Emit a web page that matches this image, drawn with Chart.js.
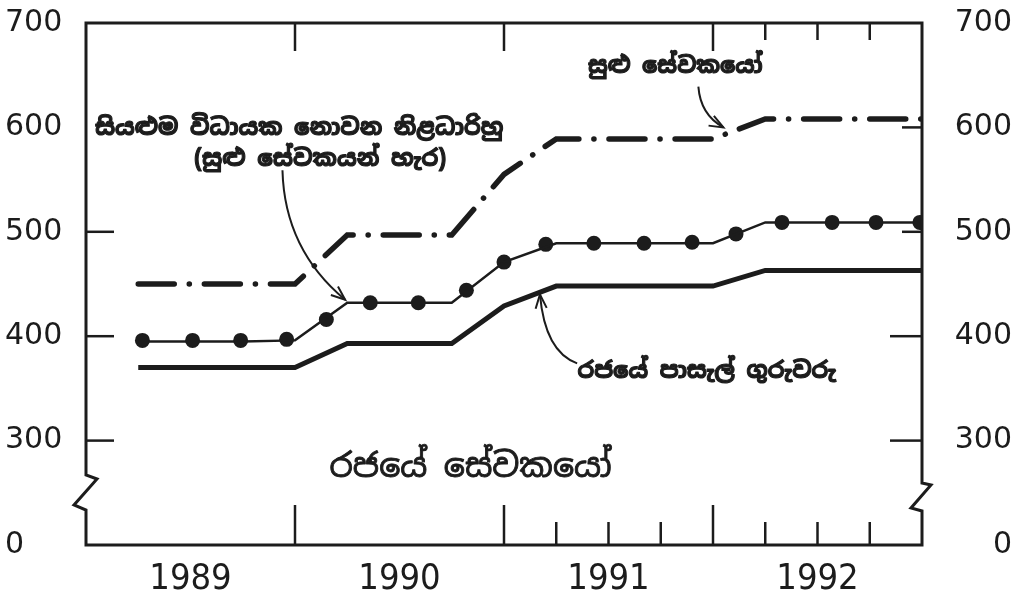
<!DOCTYPE html>
<html><head><meta charset="utf-8">
<script src="https://cdn.jsdelivr.net/npm/chart.js@4.4.0/dist/chart.umd.min.js"></script>
<style>html,body{margin:0;padding:0;background:#fff;}</style>
</head><body>
<canvas id="c" width="1025" height="594"></canvas>
<script>
// ---- data ----
const quarters = [1989.25,1989.5,1989.75,1990.0,1990.25,1990.5,1990.75,1991.0,1991.25,1991.5,1991.75,1992.0,1992.25,1992.5,1992.75,1993.0];
const teachers = [370,370,370,370,393,393,393,429,448,448,448,448,463,463,463,463];
const minorEmployees = [450,450,450,450,497,497,497,555,589,589,589,589,608,608,608,608];
const nonExecLine = [395,395,395,396,432,432,432,471,489,489,489,489,509,509,509,509];
const markerX = [1989.27,1989.51,1989.74,1989.96,1990.15,1990.36,1990.59,1990.82,1991.0,1991.2,1991.43,1991.67,1991.9,1992.11,1992.33,1992.57,1992.78,1992.99];
const markerY = [396,396,396,397,416,432,432,444,471,488,489,489,490,498,509,509,509,509];
const yearLabels = ['1989','1990','1991','1992'];
const yTickValues = [200,300,400,500,600,700];
const yTickLabels = ['0','300','400','500','600','700'];
const topMajor = [1990,1991,1992], topMinor = [1992.25,1992.5,1992.75];
const bottomMajor = [1990,1991,1992], bottomMinor = [1991.25,1991.5,1991.75,1992.25,1992.5,1992.75];
const notes = [
  {text:'සියළුම විධායක නොවන නිළධාරිහු', x:1990.02, y:599, w:408, size:22, bold:true},
  {text:'(සුළු සේවකයන් හැර)', x:1990.12, y:569, w:252, size:22, bold:true},
  {text:'සුළු සේවකයෝ', x:1991.82, y:658, w:175, size:22, bold:true},
  {text:'රජයේ පාසැල් ගුරුවරු', x:1991.97, y:366, w:258, size:22, bold:true},
  {text:'රජයේ සේවකයෝ', x:1990.84, y:274, w:282, size:34, bold:false}
];
const arrows = [
  {from:[1989.94,559], ctrl:[1989.95,483], to:[1990.24,435]},
  {from:[1991.93,639], ctrl:[1991.94,612], to:[1992.05,600]},
  {from:[1991.35,374], ctrl:[1991.196,385], to:[1991.172,440]}
];
const ink = '#1c1c1c';
const sinFont = "'Noto Sans Sinhala','Noto Serif Sinhala','Iskoola Pota','LKLUG','Noto Sans',sans-serif";

const pts = (xs, ys) => xs.map((x,i)=>({x, y: ys[i]}));

const decor = {
  id:'decor',
  beforeDraw(chart){
    const c = chart.ctx; c.save(); c.fillStyle='#fff'; c.fillRect(0,0,chart.width,chart.height); c.restore();
  },
  afterDatasetsDraw(chart){
    const {ctx:c, chartArea:a, scales:{x,y}} = chart;
    c.save();
    c.strokeStyle = ink; c.lineWidth = 3; c.lineJoin='miter'; c.lineCap='butt';
    c.beginPath();
    c.moveTo(a.left, a.top); c.lineTo(a.right, a.top);
    c.lineTo(a.right, a.bottom-62); c.lineTo(a.right+9, a.bottom-60); c.lineTo(a.right-11, a.bottom-37); c.lineTo(a.right, a.bottom-34);
    c.lineTo(a.right, a.bottom); c.lineTo(a.left, a.bottom);
    c.lineTo(a.left, a.bottom-35); c.lineTo(a.left-12, a.bottom-40); c.lineTo(a.left+11, a.bottom-66); c.lineTo(a.left, a.bottom-70);
    c.closePath(); c.stroke();
    c.lineWidth = 2.5;
    const vt = (v, y0, len) => { const px = x.getPixelForValue(v); c.beginPath(); c.moveTo(px, y0); c.lineTo(px, y0+len); c.stroke(); };
    topMajor.forEach(v=>vt(v, a.top, 28));
    topMinor.forEach(v=>vt(v, a.top, 17));
    bottomMajor.forEach(v=>vt(v, a.bottom, -40));
    bottomMinor.forEach(v=>vt(v, a.bottom, -23));
    const ht = (v, x0, len) => { const py = y.getPixelForValue(v); c.beginPath(); c.moveTo(x0, py); c.lineTo(x0+len, py); c.stroke(); };
    [300,400,500].forEach(v=>ht(v, a.left, 28));
    [300,400].forEach(v=>ht(v, a.right, -32));
    [500,600].forEach(v=>ht(v, a.right, -20));
    // arrows
    c.lineWidth = 2;
    arrows.forEach(ar=>{
      const P = p => [x.getPixelForValue(p[0]), y.getPixelForValue(p[1])];
      const f=P(ar.from), k=P(ar.ctrl), t=P(ar.to);
      c.beginPath(); c.moveTo(f[0],f[1]); c.quadraticCurveTo(k[0],k[1],t[0],t[1]); c.stroke();
      const ang = Math.atan2(t[1]-k[1], t[0]-k[0]);
      const L=15, h=0.38;
      c.beginPath();
      c.moveTo(t[0]-L*Math.cos(ang-h), t[1]-L*Math.sin(ang-h));
      c.lineTo(t[0],t[1]);
      c.lineTo(t[0]-L*Math.cos(ang+h), t[1]-L*Math.sin(ang+h));
      c.stroke();
    });
    // notes
    c.fillStyle = ink; c.strokeStyle = ink; c.textAlign='center'; c.textBaseline='middle'; c.lineJoin='round';
    notes.forEach(n=>{
      let size = n.size;
      c.font = (n.bold?'bold ':'') + size + 'px ' + sinFont;
      const w = c.measureText(n.text).width;
      if (w > 0) { size = Math.max(10, Math.min(size*1.6, size * n.w / w)); }
      c.font = (n.bold?'bold ':'') + size.toFixed(1) + 'px ' + sinFont;
      const px = x.getPixelForValue(n.x), py = y.getPixelForValue(n.y);
      c.lineWidth = n.bold ? 1.1 : 0.9;
      c.strokeText(n.text, px, py);
      c.fillText(n.text, px, py);
    });
    c.restore();
  }
};

const yAxis = (pos, width) => ({
  type:'linear', position:pos, min:200, max:700,
  afterBuildTicks: s => { s.ticks = yTickValues.map(v=>({value:v})); },
  afterFit: s => { s.width = width; },
  ticks:{ callback:(v)=> yTickLabels[yTickValues.indexOf(v)], crossAlign:'far', autoSkip:false,
          font:{family:'DejaVu Sans', size:30}, color:ink, padding:0 },
  grid:{display:false, drawTicks:false}, border:{display:false}
});

new Chart(document.getElementById('c'), {
  type:'line',
  data:{ datasets:[
    {label:'teachers', data:pts(quarters, teachers), borderColor:ink, borderWidth:5, pointRadius:0, tension:0, yAxisID:'y'},
    {label:'minor', data:pts(quarters, minorEmployees), borderColor:ink, borderWidth:5.5, borderDash:[36,15,0.1,15], borderCapStyle:'round', pointRadius:0, tension:0, yAxisID:'y'},
    {label:'nonexec', data:pts(quarters, nonExecLine), borderColor:ink, borderWidth:2.5, pointRadius:0, tension:0, yAxisID:'y'},
    {label:'markers', data:pts(markerX, markerY), showLine:false, pointRadius:7.5, pointBackgroundColor:ink, pointBorderWidth:0, yAxisID:'y'}
  ]},
  options:{
    responsive:false, animation:false, devicePixelRatio:1,
    layout:{padding:{left:5, right:13, top:23, bottom:0}},
    plugins:{legend:{display:false}, tooltip:{enabled:false}},
    scales:{
      x:{ type:'linear', position:'bottom', min:1989, max:1993,
          afterBuildTicks: s => { s.ticks = yearLabels.map((l,i)=>({value: Number(l)+0.5})); },
          afterFit: s => { s.height = 49; },
          ticks:{ callback:(v)=> yearLabels.find(l=>Number(l)+0.5===v), autoSkip:false, maxRotation:0,
                  font:{family:"'Liberation Sans Narrow','DejaVu Sans Condensed',sans-serif", size:36}, color:ink, padding:13 },
          grid:{display:false, drawTicks:false}, border:{display:false} },
      y: yAxis('left', 81),
      y2: yAxis('right', 90)
    }
  },
  plugins:[decor]
});
</script>
</body></html>
